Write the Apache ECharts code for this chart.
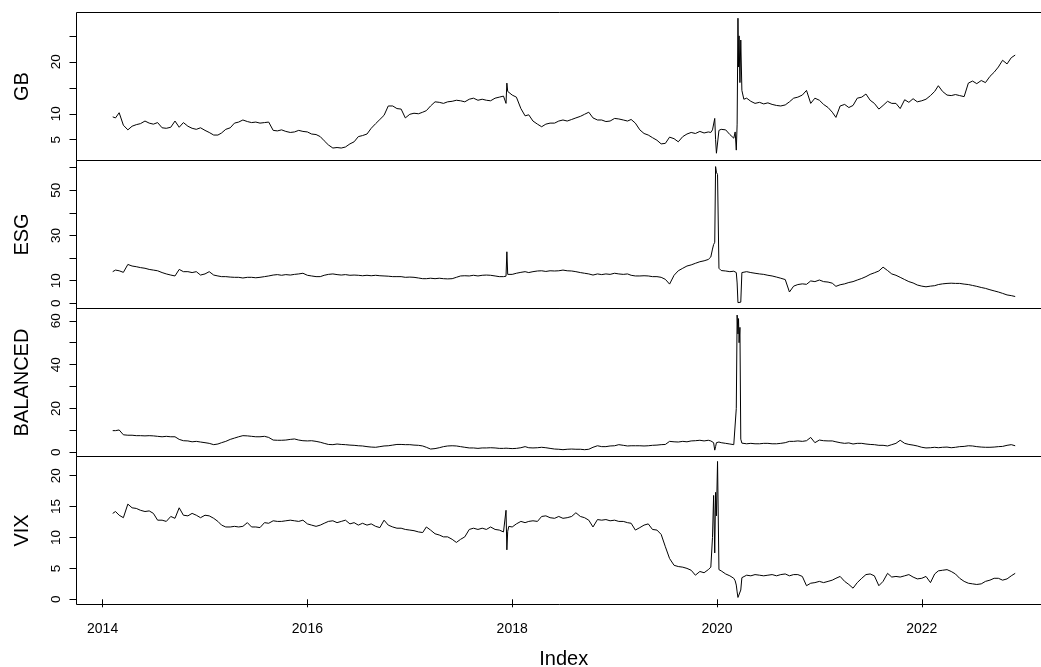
<!DOCTYPE html>
<html>
<head>
<meta charset="utf-8">
<script src="https://cdn.jsdelivr.net/npm/echarts@6/dist/echarts.min.js"></script>
<style>
  html, body { margin: 0; padding: 0; background: #fff; }
  #chart { width: 1041px; height: 667px; }
</style>
</head>
<body>
<div id="chart"></div>
<script>
// index: roughly twice a month, denser around the spikes
var dates = [
  '2014-02-06','2014-02-16','2014-03-01','2014-03-16','2014-04-01','2014-04-16','2014-05-01','2014-05-16','2014-06-01','2014-06-16','2014-07-01','2014-07-16','2014-08-01','2014-08-16','2014-09-01','2014-09-16','2014-10-01','2014-10-16','2014-11-01','2014-11-16','2014-12-01','2014-12-16',
  '2015-01-01','2015-01-16','2015-02-01','2015-02-16','2015-03-01','2015-03-16','2015-04-01','2015-04-16','2015-05-01','2015-05-16','2015-06-01','2015-06-16','2015-07-01','2015-07-16','2015-08-01','2015-08-16','2015-09-01','2015-09-16','2015-10-01','2015-10-16','2015-11-01','2015-11-16','2015-12-01','2015-12-16',
  '2016-01-01','2016-01-16','2016-02-01','2016-02-16','2016-03-01','2016-03-16','2016-04-01','2016-04-16','2016-05-01','2016-05-16','2016-06-01','2016-06-16','2016-07-01','2016-07-16','2016-08-01','2016-08-16','2016-09-01','2016-09-16','2016-10-01','2016-10-16','2016-11-01','2016-11-16','2016-12-01','2016-12-16',
  '2017-01-01','2017-01-16','2017-02-01','2017-02-16','2017-03-01','2017-03-16','2017-04-01','2017-04-16','2017-05-01','2017-05-16','2017-06-01','2017-06-16','2017-07-01','2017-07-16','2017-08-01','2017-08-16','2017-09-01','2017-09-16','2017-10-01','2017-10-16','2017-11-01','2017-11-16','2017-12-01','2017-12-10','2017-12-13','2017-12-16','2017-12-20',
  '2018-01-01','2018-01-16','2018-02-01','2018-02-16','2018-03-01','2018-03-16','2018-04-01','2018-04-16','2018-05-01','2018-05-16','2018-06-01','2018-06-16','2018-07-01','2018-07-16','2018-08-01','2018-08-16','2018-09-01','2018-09-16','2018-10-01','2018-10-16','2018-11-01','2018-11-16','2018-12-01','2018-12-16',
  '2019-01-01','2019-01-16','2019-02-01','2019-02-16','2019-03-01','2019-03-16','2019-04-01','2019-04-16','2019-05-01','2019-05-16','2019-06-01','2019-06-16','2019-07-01','2019-07-16','2019-08-01','2019-08-16','2019-09-01','2019-09-16','2019-10-01','2019-10-16','2019-11-01','2019-11-16','2019-12-01','2019-12-10','2019-12-16','2019-12-20','2019-12-24','2019-12-27','2019-12-30',
  '2020-01-03','2020-01-08','2020-01-16','2020-02-01','2020-02-16','2020-03-01','2020-03-06','2020-03-10','2020-03-13','2020-03-16','2020-03-18','2020-03-20','2020-03-23','2020-03-26','2020-03-30','2020-04-06','2020-04-16','2020-05-01','2020-05-16','2020-06-01','2020-06-16','2020-07-01','2020-07-16','2020-08-01','2020-08-16','2020-09-01','2020-09-16','2020-10-01','2020-10-16','2020-11-01','2020-11-16','2020-12-01','2020-12-16',
  '2021-01-01','2021-01-16','2021-02-01','2021-02-16','2021-03-01','2021-03-16','2021-04-01','2021-04-16','2021-05-01','2021-05-16','2021-06-01','2021-06-16','2021-07-01','2021-07-16','2021-08-01','2021-08-16','2021-09-01','2021-09-16','2021-10-01','2021-10-16','2021-11-01','2021-11-16','2021-12-01','2021-12-16',
  '2022-01-01','2022-01-16','2022-02-01','2022-02-16','2022-03-01','2022-03-16','2022-04-01','2022-04-16','2022-05-01','2022-05-16','2022-06-01','2022-06-16','2022-07-01','2022-07-16','2022-08-01','2022-08-16','2022-09-01','2022-09-16','2022-10-01','2022-10-16','2022-11-01','2022-11-16','2022-11-30'
];

var gb = [
  9.4, 9.2, 10.2, 7.8, 6.9, 7.6, 7.9, 8.1, 8.6, 8.2, 8.0, 8.3, 7.3, 7.2, 7.4, 8.6, 7.4, 8.3, 7.6, 7.2, 7.0, 7.3,
  6.8, 6.4, 5.9, 5.9, 6.3, 7.0, 7.3, 8.2, 8.4, 8.8, 8.5, 8.3, 8.4, 8.2, 8.3, 8.4, 6.8, 6.7, 6.9, 6.6, 6.4, 6.5, 6.8, 6.6,
  6.5, 6.1, 6.0, 5.6, 4.8, 4.0, 3.4, 3.5, 3.4, 3.6, 4.2, 4.6, 5.6, 5.8, 6.1, 7.2, 8.1, 8.9, 9.7, 11.5, 11.5, 11.0, 10.9, 9.2,
  9.9, 10.1, 10.0, 10.3, 10.6, 11.5, 12.3, 12.2, 12.0, 12.3, 12.4, 12.6, 12.5, 12.3, 12.8, 13.0, 12.6, 12.8, 12.6, 12.5, 13.0, 13.2, 13.4, 12.0, 15.9, 14.3, 14.0,
  13.6, 13.2, 11.0, 9.6, 9.8, 8.6, 8.0, 7.5, 8.0, 8.2, 8.2, 8.6, 8.8, 8.6, 8.9, 9.2, 9.5, 9.9, 10.3, 9.2, 8.8, 8.8, 8.5, 8.6,
  9.1, 9.0, 8.8, 8.6, 8.9, 8.2, 6.9, 6.2, 5.9, 5.4, 4.9, 4.2, 4.3, 5.5, 5.2, 4.6, 5.6, 6.1, 6.4, 6.2, 6.6, 6.3, 6.5, 6.4, 6.9, 6.6, 9.1, 5.0, 2.4,
  2.6, 6.8, 7.0, 6.9, 6.0, 5.3, 6.5, 3.0, 8.0, 28.4, 19.0, 25.0, 16.0, 24.2, 14.5, 12.8, 13.0, 12.4, 12.0, 12.2, 11.9, 12.1, 11.8, 11.6, 11.5, 11.7, 12.3, 13.0, 13.2, 13.6, 14.5, 12.0, 13.0,
  12.6, 11.8, 11.2, 10.3, 9.3, 11.5, 11.8, 11.2, 11.6, 13.0, 13.2, 13.8, 12.6, 12.0, 10.9, 11.6, 12.4, 12.0, 12.0, 11.0, 12.7, 12.2, 12.9, 12.3,
  12.5, 12.8, 13.5, 14.3, 15.4, 14.3, 13.6, 13.5, 13.7, 13.5, 13.3, 15.9, 16.3, 15.8, 16.4, 16.0, 17.2, 18.0, 19.0, 20.3, 19.6, 20.8, 21.3
];

var esg = [
  14.0, 14.7, 14.4, 13.7, 17.2, 16.5, 16.2, 15.8, 15.5, 15.0, 14.7, 14.4, 13.6, 13.0, 12.5, 12.1, 15.0, 14.0, 14.0, 13.6, 14.0, 12.5,
  13.0, 14.0, 12.5, 12.1, 11.8, 11.8, 11.6, 11.5, 11.5, 11.2, 11.5, 11.5, 11.3, 11.5, 11.8, 12.1, 12.5, 12.7, 12.4, 12.7, 12.5, 12.8, 13.0, 13.3,
  12.4, 12.1, 11.8, 11.8, 12.4, 12.8, 13.0, 12.7, 12.5, 12.7, 12.4, 12.5, 12.4, 12.2, 12.4, 12.2, 12.4, 12.2, 12.1, 12.0, 11.8, 11.8, 11.8, 11.5,
  11.6, 11.5, 11.2, 10.9, 10.9, 11.1, 10.9, 11.1, 10.9, 10.8, 10.9, 11.5, 12.1, 12.2, 12.1, 12.4, 12.1, 12.4, 12.5, 12.4, 12.1, 11.8, 11.8, 12.0, 22.8, 12.8, 12.5,
  12.8, 13.3, 13.7, 14.0, 13.6, 14.0, 14.3, 14.4, 14.1, 14.4, 14.3, 14.4, 14.7, 14.4, 14.3, 14.0, 13.6, 13.3, 13.0, 12.5, 13.0, 12.7, 13.0, 12.8,
  13.3, 13.0, 12.8, 13.0, 12.4, 12.1, 12.1, 12.2, 12.1, 11.8, 11.8, 11.5, 10.6, 8.5, 12.4, 14.4, 15.5, 16.5, 17.0, 17.7, 18.4, 18.8, 19.4, 20.5, 24.0, 26.0, 27.0, 60.5, 58.0,
  57.0, 15.5, 14.5, 14.3, 14.0, 14.2, 13.8, 13.6, 9.0, 0.3, 0.0, 0.3, 0.1, 0.5, 13.6, 13.8, 14.0, 13.6, 13.3, 13.0, 12.8, 12.4, 12.1, 11.6, 11.1, 10.5, 5.0, 7.6, 8.3, 8.6, 8.4, 9.9, 9.6,
  10.3, 9.6, 9.4, 8.9, 7.5, 8.2, 8.6, 9.2, 9.6, 10.3, 11.0, 11.8, 12.8, 13.5, 14.3, 16.0, 14.5, 13.0, 12.4, 11.5, 10.5, 9.6, 9.0, 8.1,
  7.6, 7.3, 7.6, 7.8, 8.3, 8.6, 8.8, 8.9, 8.8, 8.8, 8.5, 8.3, 7.9, 7.5, 7.0, 6.6, 6.0, 5.5, 5.0, 4.4, 3.7, 3.4, 3.0
];

var balanced = [
  9.9, 9.9, 10.2, 8.0, 7.8, 7.8, 7.6, 7.6, 7.5, 7.6, 7.5, 7.3, 7.1, 7.3, 7.1, 7.1, 5.9, 5.3, 5.2, 4.8, 5.0, 4.7,
  4.4, 4.1, 3.5, 3.8, 4.4, 5.0, 5.9, 6.5, 7.1, 7.6, 7.5, 7.3, 7.1, 7.1, 7.3, 6.8, 5.6, 5.5, 5.5, 5.6, 5.9, 6.1, 5.6, 5.3,
  5.2, 5.3, 5.0, 4.6, 4.1, 3.6, 3.5, 3.8, 3.6, 3.5, 3.3, 3.2, 3.0, 2.9, 2.6, 2.4, 2.3, 2.6, 2.9, 3.0, 3.3, 3.6, 3.6, 3.5,
  3.5, 3.3, 3.2, 2.9, 2.3, 1.5, 1.7, 2.1, 2.6, 2.9, 3.0, 2.9, 2.6, 2.3, 2.0, 2.0, 1.8, 2.0, 2.0, 2.1, 2.0, 1.8, 1.8, 1.9, 1.0, 1.6, 1.8,
  1.7, 1.8, 2.1, 2.6, 2.1, 2.0, 2.1, 2.3, 2.1, 1.8, 1.5, 1.4, 1.2, 1.4, 1.5, 1.4, 1.4, 1.2, 1.4, 2.3, 3.0, 2.6, 2.6, 2.9,
  3.0, 3.5, 3.2, 2.9, 3.0, 3.0, 3.0, 2.9, 3.0, 3.2, 3.3, 3.5, 3.6, 5.0, 4.8, 4.7, 5.0, 4.8, 5.2, 5.3, 5.5, 5.2, 5.5, 5.2, 4.7, 4.4, 1.0, 2.6, 4.4,
  4.8, 4.7, 4.4, 4.1, 3.8, 3.5, 3.5, 20.0, 62.6, 54.0, 61.0, 50.0, 57.0, 6.0, 4.2, 4.1, 3.9, 4.1, 3.9, 3.9, 4.1, 4.1, 3.9, 3.9, 4.1, 4.4, 5.0, 5.0, 5.2, 5.0, 5.3, 6.8, 4.4,
  5.6, 5.3, 5.2, 5.2, 4.8, 4.4, 4.1, 4.3, 3.8, 4.1, 4.1, 3.8, 3.6, 3.5, 3.2, 3.2, 2.9, 3.5, 4.1, 5.5, 4.1, 3.6, 3.3, 2.9,
  2.3, 2.0, 2.1, 2.3, 2.1, 2.3, 2.4, 2.1, 2.3, 2.6, 2.7, 3.0, 2.9, 2.6, 2.4, 2.3, 2.3, 2.4, 2.6, 2.7, 3.2, 3.5, 3.0
];

var vix = [
  13.9, 14.2, 13.6, 13.2, 15.4, 14.8, 14.7, 14.4, 14.2, 14.3, 13.9, 12.8, 12.8, 12.6, 13.4, 13.1, 14.8, 13.6, 13.5, 13.9, 13.6, 13.2,
  13.6, 13.5, 13.1, 12.6, 12.0, 11.7, 11.7, 11.8, 11.7, 11.8, 12.4, 11.7, 11.7, 11.6, 12.4, 12.3, 12.7, 12.6, 12.6, 12.7, 12.8, 12.7, 12.6, 12.8,
  12.2, 12.0, 11.8, 12.0, 12.3, 12.6, 12.7, 12.4, 12.6, 12.8, 12.2, 12.4, 12.0, 12.3, 12.0, 12.2, 11.8, 11.6, 12.8, 12.0, 11.7, 11.5, 11.5, 11.3,
  11.2, 11.1, 10.9, 10.8, 11.7, 11.2, 10.6, 10.4, 10.1, 10.1, 9.7, 9.2, 9.7, 10.1, 11.3, 11.5, 11.3, 11.5, 11.3, 11.7, 11.3, 11.2, 10.9, 14.4, 8.0, 11.0, 11.8,
  11.7, 12.2, 12.6, 12.4, 12.6, 12.7, 12.6, 13.4, 13.5, 13.2, 13.1, 13.4, 13.1, 13.2, 13.4, 14.0, 13.4, 13.2, 12.8, 11.7, 12.9, 12.8, 12.9, 12.7,
  12.8, 12.6, 12.6, 12.4, 12.3, 11.2, 11.6, 12.0, 12.2, 11.3, 11.2, 10.5, 8.5, 6.6, 5.5, 5.3, 5.2, 5.0, 4.7, 3.9, 4.5, 4.3, 4.8, 5.2, 10.0, 16.8, 7.5, 17.3, 13.5,
  22.3, 4.8, 4.6, 4.1, 3.8, 3.4, 3.0, 2.3, 1.2, 0.3, 0.2, 0.3, 0.5, 1.5, 3.5, 3.8, 3.9, 3.8, 4.0, 3.9, 3.8, 3.9, 4.0, 3.8, 4.0, 4.1, 3.8, 4.0, 4.0, 3.7, 2.2, 2.6, 2.7,
  2.9, 2.7, 2.9, 3.1, 3.4, 3.7, 2.9, 2.4, 1.8, 2.7, 3.4, 4.0, 4.1, 3.8, 2.2, 2.9, 4.2, 3.6, 3.7, 3.6, 3.8, 4.0, 3.6, 3.3,
  3.4, 3.7, 2.7, 4.1, 4.6, 4.7, 4.8, 4.5, 4.1, 3.4, 2.9, 2.6, 2.5, 2.4, 2.5, 2.9, 3.1, 3.4, 3.4, 3.1, 3.3, 3.8, 4.2
];

var panelNames = ['GB', 'ESG', 'BALANCED', 'VIX'];
var xTicks = [2014, 2016, 2018, 2020, 2022];
var gbTicks = [5, 10, 15, 20, 25];
var gbLabels = [5, 10, 20];
var esgTicks = [0, 10, 20, 30, 40, 50, 60];
var esgLabels = [0, 10, 30, 50];
var balTicks = [0, 10, 20, 30, 40, 50, 60];
var balLabels = [0, 20, 40, 60];
var vixTicks = [0, 5, 10, 15, 20];
var vixLabels = [0, 5, 10, 15, 20];

var allSeries = [gb, esg, balanced, vix];
allSeries.forEach(function (s, i) {
  if (s.length !== dates.length) throw new Error(panelNames[i] + ' has ' + s.length + ' values, dates has ' + dates.length);
});

// date string -> decimal year
function toYear(s) {
  var p = s.split('-');
  var y = +p[0];
  var t = Date.UTC(y, +p[1] - 1, +p[2]);
  return y + (t - Date.UTC(y, 0, 1)) / (Date.UTC(y + 1, 0, 1) - Date.UTC(y, 0, 1));
}
var years = dates.map(toYear);

var font = 'Liberation Sans, Arial, Helvetica, sans-serif';
var tickSets = [gbTicks, esgTicks, balTicks, vixTicks];
var labelSets = [gbLabels, esgLabels, balLabels, vixLabels];
// panel layout (plot.zoo style stacked panels), half pixels keep the box lines crisp
var tops = [12.5, 160.5, 308.5, 456.5];
var bottoms = [160.5, 308.5, 456.5, 604.5];
var yMin = [1.0, -2.3, -1.9, -0.84];
var yMax = [29.5, 63.2, 65.6, 23.1];

var grids = [], xAxes = [], yAxes = [], seriesOpt = [];
for (var i = 0; i < 4; i++) {
  var last = i === 3;
  grids.push({
    left: 76.5, right: -10, top: tops[i], height: bottoms[i] - tops[i],
    show: true, borderColor: '#000', borderWidth: 1, backgroundColor: 'transparent',
    containLabel: false, outerBoundsMode: 'none'
  });
  xAxes.push({
    type: 'value', gridIndex: i, min: 2013.745, max: 2023.262,
    axisLine: { show: false },
    splitLine: { show: false },
    axisTick: { show: last, customValues: xTicks, length: 8, lineStyle: { color: '#000' } },
    axisLabel: { show: last, customValues: xTicks, margin: 18, fontSize: 14, color: '#000', fontFamily: font,
                 formatter: function (v) { return String(v); } },
    name: last ? 'Index' : '', nameLocation: 'middle', nameGap: 45,
    nameTextStyle: { fontSize: 20, color: '#000', fontFamily: font }
  });
  yAxes.push({
    type: 'value', gridIndex: i, min: yMin[i], max: yMax[i],
    axisLine: { show: false },
    splitLine: { show: false },
    axisTick: { show: true, customValues: tickSets[i], length: 7, lineStyle: { color: '#000' } },
    axisLabel: { customValues: labelSets[i], rotate: 90, margin: 13, fontSize: 13.5, color: '#000', fontFamily: font },
    name: panelNames[i], nameLocation: 'middle', nameRotate: 90, nameGap: 44, nameMoveOverlap: false,
    nameTextStyle: { fontSize: 20, color: '#000', fontFamily: font }
  });
  seriesOpt.push({
    type: 'line', xAxisIndex: i, yAxisIndex: i,
    data: years.map(function (x, k) { return [x, allSeries[i][k]]; }),
    showSymbol: false, symbol: 'none',
    lineStyle: { color: '#000', width: 1 },
    emphasis: { disabled: true }
  });
}

var chart = echarts.init(document.getElementById('chart'), null, { renderer: 'canvas' });
chart.setOption({
  animation: false,
  backgroundColor: '#fff',
  grid: grids,
  xAxis: xAxes,
  yAxis: yAxes,
  series: seriesOpt
});
</script>
</body>
</html>
